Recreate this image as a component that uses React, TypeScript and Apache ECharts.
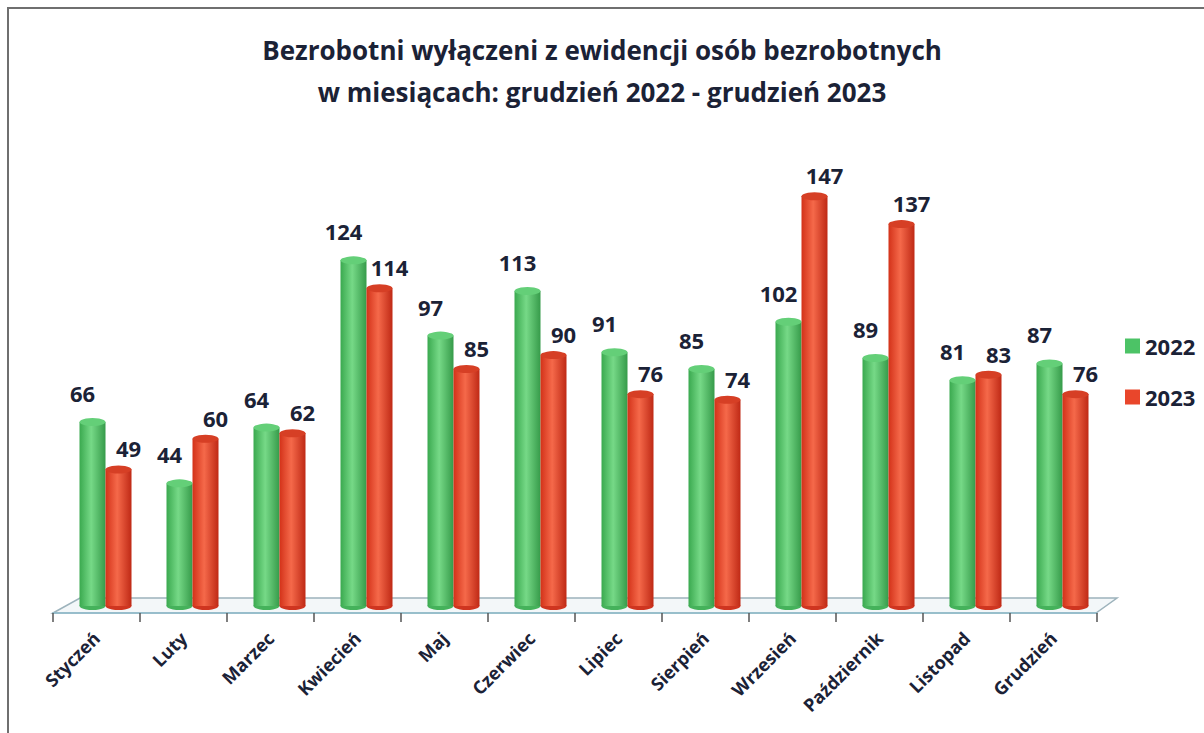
import React, { useEffect, useRef } from "react";
import * as echarts from "echarts";

const months = ["Styczeń", "Luty", "Marzec", "Kwiecień", "Maj", "Czerwiec", "Lipiec", "Sierpień", "Wrzesień", "Październik", "Listopad", "Grudzień"];
const values2022 = [66, 44, 64, 124, 97, 113, 91, 85, 102, 89, 81, 87];
const values2023 = [49, 60, 62, 114, 85, 90, 76, 74, 147, 137, 83, 76];
const seriesNames = ["2022", "2023"];
const titleText = "Bezrobotni wyłączeni z ewidencji osób bezrobotnych\nw miesiącach: grudzień 2022 - grudzień 2023";

const FONT = "'Open Sans', 'DejaVu Sans', sans-serif";
const TEXT = "#1b2236";

const greenGrad = new echarts.graphic.LinearGradient(0, 0, 1, 0, [
  { offset: 0, color: "#3aa94f" },
  { offset: 0.45, color: "#76d987" },
  { offset: 1, color: "#369b4a" },
]);
const redGrad = new echarts.graphic.LinearGradient(0, 0, 1, 0, [
  { offset: 0, color: "#d33219" },
  { offset: 0.45, color: "#f5694a" },
  { offset: 1, color: "#bf2915" },
]);

function ellipseSeries(name: string, data: number[], axis: number, color: string, atEnd: boolean, z: number) {
  return {
    name,
    type: "pictorialBar",
    xAxisIndex: axis,
    yAxisIndex: 0,
    barWidth: 26,
    barGap: "0%",
    symbol: "circle",
    symbolSize: [26, 8],
    symbolPosition: atEnd ? "end" : "start",
    symbolOffset: [0, atEnd ? "-50%" : "50%"],
    data,
    itemStyle: { color },
    z,
    silent: true,
  };
}

export default function App() {
  const ref = useRef<HTMLDivElement>(null);
  useEffect(() => {
    if (!ref.current) return;
    const chart = echarts.init(ref.current, null, { renderer: "svg" });
    const hiddenCat = {
      type: "category",
      data: months,
      axisLine: { show: false },
      axisTick: { show: false },
      axisLabel: { show: false },
    };
    const labelCommon = {
      show: true,
      position: "top",
      fontFamily: FONT,
      fontWeight: "bold",
      fontSize: 22,
      color: TEXT,
    };
    chart.setOption({
      animation: false,
      backgroundColor: "#ffffff",
      title: {
        text: titleText,
        left: "center",
        top: 24,
        textStyle: { fontFamily: FONT, fontWeight: "bold", fontSize: 26, color: TEXT, lineHeight: 42 },
      },
      legend: {
        data: [
          { name: seriesNames[0], itemStyle: { color: "#4cc366" } },
          { name: seriesNames[1], itemStyle: { color: "#e9462b" } },
        ],
        orient: "vertical",
        left: 1120,
        top: 330,
        itemGap: 29,
        itemWidth: 15,
        itemHeight: 15,
        icon: "rect",
        textStyle: { fontFamily: FONT, fontWeight: "bold", fontSize: 22, color: TEXT },
      },
      graphic: [
        {
          type: "polyline",
          shape: { points: [[8, 733], [8, 8], [1204, 8]] },
          style: { stroke: "#6f6f6f", lineWidth: 2, fill: "none" },
          z: 0,
        },
        {
          type: "polygon",
          shape: { points: [[53, 613], [80, 598], [1117, 598], [1096, 613]] },
          style: { fill: "#f3f7f9", stroke: "#9db3bc", lineWidth: 1.5 },
          z: 0,
        },
      ],
      grid: [
        { left: 62, right: 98, top: 160, bottom: 127 },
        { left: 53, right: 107, top: 160, bottom: 120 },
      ],
      xAxis: [
        { gridIndex: 0, ...hiddenCat },
        {
          gridIndex: 1,
          type: "category",
          data: months,
          axisLine: { show: true, lineStyle: { color: "#8fbccb", width: 1.5 } },
          axisTick: { show: true, length: 9, lineStyle: { color: "#555", width: 1.5 } },
          axisLabel: {
            rotate: 45,
            margin: 22,
            fontFamily: FONT,
            fontWeight: "bold",
            fontSize: 18,
            color: TEXT,
          },
        },
        { gridIndex: 0, ...hiddenCat },
        { gridIndex: 0, ...hiddenCat },
      ],
      yAxis: [
        { gridIndex: 0, type: "value", min: 0, max: 160, show: false, splitLine: { show: false } },
        { gridIndex: 1, type: "value", min: 0, max: 160, show: false, splitLine: { show: false } },
      ],
      series: [
        {
          name: seriesNames[0],
          type: "bar",
          xAxisIndex: 0,
          yAxisIndex: 0,
          barWidth: 26,
          barGap: "0%",
          data: values2022,
          itemStyle: { color: greenGrad },
          label: { ...labelCommon, distance: 18, offset: [-10, 0] },
          z: 3,
        },
        {
          name: seriesNames[1],
          type: "bar",
          xAxisIndex: 0,
          yAxisIndex: 0,
          barWidth: 26,
          barGap: "0%",
          data: values2023,
          itemStyle: { color: redGrad },
          label: { ...labelCommon, distance: 10, offset: [10, 0] },
          z: 3,
        },
        ellipseSeries("cap2022", values2022, 2, "#64cf78", true, 4),
        ellipseSeries("cap2023", values2023, 2, "#d63f25", true, 4),
        ellipseSeries("base2022", values2022, 3, "#45b25b", false, 2),
        ellipseSeries("base2023", values2023, 3, "#cf3520", false, 2),
      ],
    });
    return () => chart.dispose();
  }, []);
  return (
    <div
      ref={ref}
      style={{ position: "fixed", left: 0, top: 0, width: 1204, height: 733 }}
    />
  );
}
